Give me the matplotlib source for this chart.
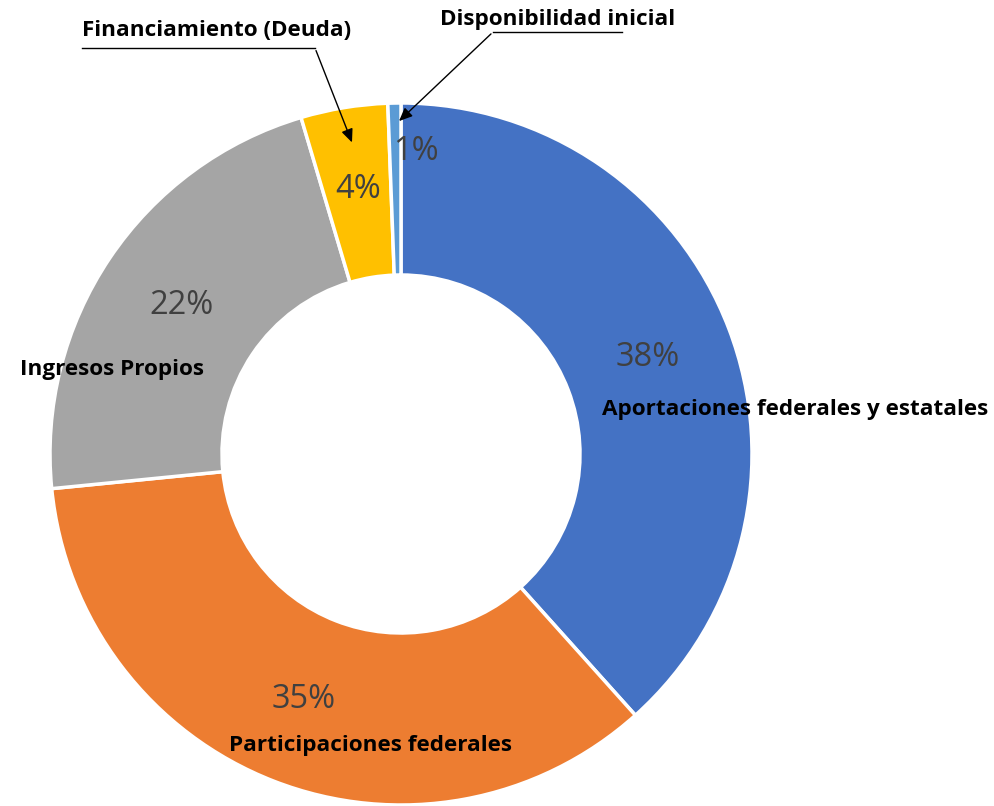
import matplotlib
matplotlib.use("Agg")
import matplotlib.pyplot as plt

categories = ["Aportaciones federales y estatales", "Participaciones federales",
              "Ingresos Propios", "Financiamiento (Deuda)", "Disponibilidad inicial"]
values = [38.4, 35.1, 22.0, 4.0, 0.6]
colors = ["#4472C4", "#ED7D31", "#A5A5A5", "#FFC000", "#5B9BD5"]

W, H = 994, 806
cx, cy, R = 401, 454, 351

fig = plt.figure(figsize=(W / 100, H / 100), dpi=100)
ax = fig.add_axes([0, 0, 1, 1])
wedges, _ = ax.pie(values, colors=colors, startangle=90, counterclock=False,
                   radius=1.0, wedgeprops=dict(width=0.49, edgecolor="white", linewidth=2.5))
ax.set_aspect("auto")
ax.set_xlim(-cx / R, (W - cx) / R)
ax.set_ylim(-(H - cy) / R, cy / R)
ax.axis("off")


def px(x, y):
    return ((x - cx) / R, (cy - y) / R)


pct_pos = [(648, 358), (304, 700), (181, 305), (358, 190), (416, 152)]
for v, p in zip(values, pct_pos):
    ax.text(*px(*p), f"{v:.0f}%", ha="center", va="center", fontsize=23.5,
            color="#404040", family="Open Sans")

lab_pos = [(795, 410), (370, 745), (112, 370), (217, 30), (558, 20)]
for c, p in zip(categories, lab_pos):
    ax.text(*px(*p), c, ha="center", va="center", fontsize=16.2,
            fontweight="bold", color="black", family="Open Sans")

# leader lines
ax.plot(*zip(px(82, 48), px(315, 48)), color="black", lw=1)
ax.annotate("", xy=px(353, 145), xytext=px(315, 48),
            arrowprops=dict(arrowstyle="-|>,head_length=0.8,head_width=0.35", color="black", lw=1))
ax.plot(*zip(px(493, 32), px(622, 32)), color="black", lw=1)
ax.annotate("", xy=px(397, 123), xytext=px(493, 32),
            arrowprops=dict(arrowstyle="-|>,head_length=0.8,head_width=0.35", color="black", lw=1))

fig.savefig("out.png", dpi=100)
